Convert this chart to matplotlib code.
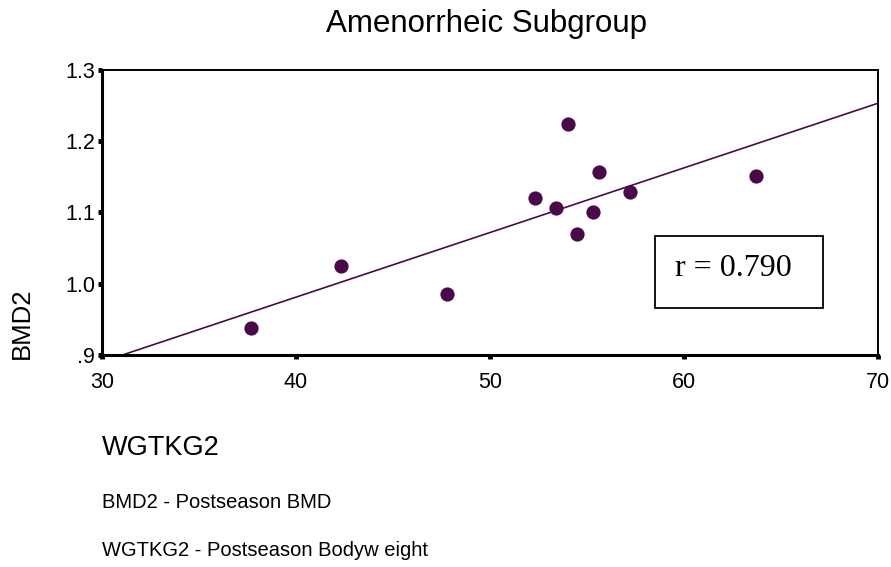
import numpy as np
import matplotlib
matplotlib.use("Agg")
import matplotlib.pyplot as plt
from matplotlib.patches import Rectangle

# postseason bodyweight (kg) and postseason BMD, amenorrheic athletes
wgtkg2 = [37.7, 42.3, 47.8, 52.3, 53.4, 54.0, 54.5, 55.3, 55.6, 57.2, 63.7]
bmd2 = [0.938, 1.025, 0.986, 1.120, 1.106, 1.224, 1.070, 1.101, 1.157, 1.129, 1.151]

x_ticks = [30, 40, 50, 60, 70]
y_ticks = [0.9, 1.0, 1.1, 1.2, 1.3]
y_tick_labels = [".9", "1.0", "1.1", "1.2", "1.3"]
r_value = 0.790

plt.rcParams["font.family"] = ["Liberation Sans", "DejaVu Sans"]
purple = "#4a0a4a"

fig = plt.figure(figsize=(8.91, 5.67), dpi=100, facecolor="white")
W, H = 891.0, 567.0
ax = fig.add_axes([102 / W, 1 - 355 / H, 776 / W, 285 / H])

ax.scatter(wgtkg2, bmd2, s=105, color=purple, zorder=3, linewidths=0)

# least squares line across the whole x range, clipped by the axes
slope, intercept = np.polyfit(wgtkg2, bmd2, 1)
xs = np.array([30, 70])
ax.plot(xs, slope * xs + intercept, color=purple, lw=1.2, zorder=2)

ax.set_xlim(30, 70)
ax.set_ylim(0.9, 1.3)
ax.set_xticks(x_ticks)
ax.set_yticks(y_ticks)
ax.set_yticklabels(y_tick_labels)
ax.tick_params(direction="out", length=3, width=3.5, labelsize=15.5)
ax.tick_params(axis="x", pad=9)
ax.tick_params(axis="y", pad=2)

for side in ["left", "bottom"]:
    ax.spines[side].set_linewidth(2.2)
for side in ["top", "right"]:
    ax.spines[side].set_linewidth(1.4)

# correlation box
ax.add_patch(Rectangle((0.7126, 0.165), 0.2165, 0.2525, transform=ax.transAxes,
                       fill=False, ec="black", lw=1.3, zorder=4))
ax.text(0.814, 0.305, "r = %.3f" % r_value, transform=ax.transAxes,
        ha="center", va="center", fontsize=23, family="Liberation Serif")

fig.text(487 / W, 1 - 32 / H, "Amenorrheic Subgroup", ha="center",
         va="baseline", fontsize=22.5)
fig.text(22 / W, 1 - 323 / H, "BMD2", rotation=90, ha="center", va="center",
         fontsize=18.5)
fig.text(102 / W, 1 - 448 / H, "WGTKG2", ha="left", va="center", fontsize=19.5)
fig.text(102 / W, 1 - 503 / H, "BMD2 - Postseason BMD", ha="left", va="center",
         fontsize=14.5)
fig.text(102 / W, 1 - 551 / H, "WGTKG2 - Postseason Bodyw eight", ha="left",
         va="center", fontsize=14.5)

fig.savefig("out.png", dpi=100)
